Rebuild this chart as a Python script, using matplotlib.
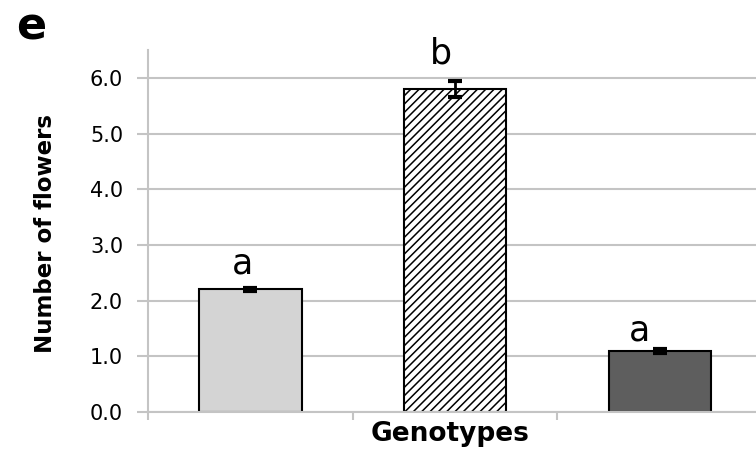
"""
Bar chart: number of flowers per genotype, with significance letters
"""
import matplotlib
matplotlib.use('Agg')
import matplotlib.pyplot as plt
import numpy as np

# Data
genotypes = ['WT', 'mutant', 'complemented']
flowers = [2.2, 5.8, 1.1]
errors = [0.03, 0.14, 0.04]
letters = ['a', 'b', 'a']
letter_heights = [2.48, 6.25, 1.29]
letter_shift = [-0.04, -0.07, -0.10]

yticks = [0.0, 1.0, 2.0, 3.0, 4.0, 5.0, 6.0]

plt.rcParams['font.family'] = ['DejaVu Sans']
plt.rcParams['hatch.linewidth'] = 1.1

grey = '#c4c4c4'

fig = plt.figure(figsize=(7.56, 4.51), dpi=100)
ax = fig.add_axes([148 / 756, 1 - 412 / 451, 614 / 756, 362 / 451])

x = np.arange(len(genotypes))

# Bars: light grey, hatched, dark grey
bars = ax.bar(x, flowers, width=0.5, edgecolor='black', linewidth=1.5, zorder=3)
bars[0].set_facecolor('#d4d4d4')
bars[1].set_facecolor('white')
bars[1].set_hatch('////')
bars[2].set_facecolor('#5e5e5e')

ax.errorbar(x, flowers, yerr=errors, fmt='none', ecolor='black',
            elinewidth=2, capsize=5, capthick=3, zorder=4)

# Significance letters
for i in range(len(x)):
    ax.text(x[i] + letter_shift[i], letter_heights[i], letters[i],
            ha='center', va='baseline', fontsize=25, color='black')

ax.set_xlim(-0.5, 2.5)
ax.set_ylim(0, 6.5)

ax.set_yticks(yticks)
ax.set_yticklabels(['%.1f' % v for v in yticks], fontsize=15)
ax.yaxis.grid(True, color=grey, linewidth=1.5, zorder=0)
ax.set_axisbelow(True)

ax.set_xticks([-0.5, 0.5, 1.5])
ax.set_xticklabels([])

for side in ['top', 'right']:
    ax.spines[side].set_visible(False)
for side in ['left', 'bottom']:
    ax.spines[side].set_color(grey)
    ax.spines[side].set_linewidth(1.5)
ax.spines['bottom'].set_zorder(5)

ax.tick_params(axis='y', length=8, width=1.5, color=grey, pad=10)
ax.tick_params(axis='x', length=6, width=1.5, color=grey)

ax.set_ylabel('Number of flowers', fontsize=16.5, fontweight='bold', labelpad=12)
ax.yaxis.set_label_coords(-(148 - 46) / 614, (412 - 233) / 362)
ax.set_xlabel('Genotypes', fontsize=19, fontweight='bold')
ax.xaxis.set_label_coords((450 - 148) / 614, -(434 - 412) / 362)
ax.xaxis.label.set_va('center')
ax.yaxis.label.set_va('center')

fig.text(31 / 756, 1 - 27 / 451, 'e', fontsize=32, fontweight='bold',
         ha='center', va='center')

fig.savefig('out.png', dpi=100)
